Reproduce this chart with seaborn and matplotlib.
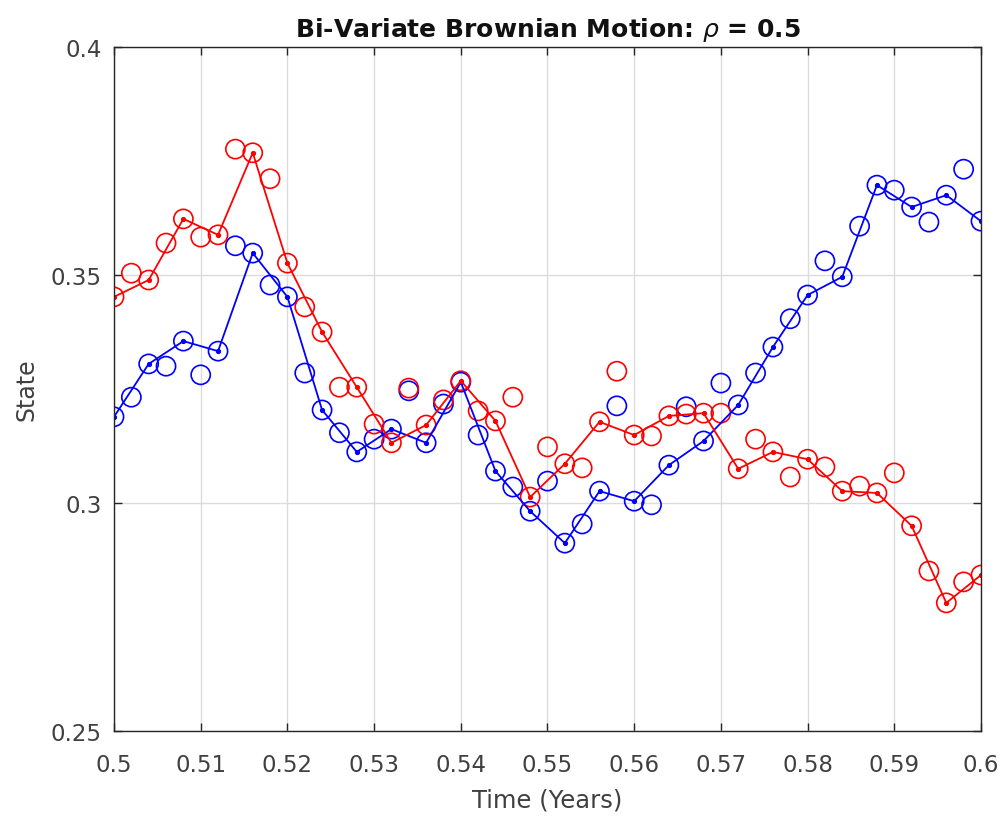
import matplotlib
matplotlib.use("Agg")
import matplotlib.pyplot as plt
import seaborn as sns
import numpy as np
import pandas as pd

# observation times (every 0.002) and path times (every 0.004)
t_obs = [round(0.5 + 0.002 * i, 3) for i in range(51)]
t_path = [round(0.5 + 0.004 * i, 3) for i in range(26)]

# noisy observations (open circles)
blue_obs = [0.3189, 0.3232, 0.3305, 0.3300, 0.3355, 0.3281, 0.3333, 0.3564, 0.3548, 0.3478,
            0.3452, 0.3285, 0.3204, 0.3154, 0.3112, 0.3140, 0.3162, 0.3246, 0.3132, 0.3217,
            0.3265, 0.3149, 0.3070, 0.3035, 0.2982, 0.3048, 0.2912, 0.2954, 0.3026, 0.3213,
            0.3004, 0.2996, 0.3083, 0.3211, 0.3136, 0.3263, 0.3215, 0.3285, 0.3342, 0.3404,
            0.3456, 0.3531, 0.3496, 0.3607, 0.3697, 0.3686, 0.3649, 0.3616, 0.3675, 0.3732,
            0.3618]
red_obs = [0.3452, 0.3504, 0.3489, 0.3570, 0.3623, 0.3583, 0.3588, 0.3776, 0.3768, 0.3711,
           0.3526, 0.3430, 0.3375, 0.3254, 0.3254, 0.3173, 0.3132, 0.3252, 0.3171, 0.3226,
           0.3268, 0.3202, 0.3180, 0.3232, 0.3013, 0.3123, 0.3086, 0.3077, 0.3178, 0.3289,
           0.3149, 0.3147, 0.3191, 0.3195, 0.3197, 0.3197, 0.3075, 0.3140, 0.3112, 0.3057,
           0.3096, 0.3079, 0.3026, 0.3037, 0.3022, 0.3066, 0.2950, 0.2851, 0.2781, 0.2827,
           0.2842]

# simulated paths (lines with dots)
blue_path = [0.3189, 0.3305, 0.3355, 0.3333, 0.3548, 0.3452, 0.3204, 0.3112, 0.3162, 0.3132,
             0.3265, 0.3070, 0.2982, 0.2912, 0.3026, 0.3004, 0.3083, 0.3136, 0.3215, 0.3342,
             0.3456, 0.3496, 0.3697, 0.3649, 0.3675, 0.3618]
red_path = [0.3452, 0.3489, 0.3623, 0.3588, 0.3768, 0.3526, 0.3375, 0.3254, 0.3132, 0.3171,
            0.3268, 0.3180, 0.3013, 0.3086, 0.3178, 0.3149, 0.3191, 0.3197, 0.3075, 0.3112,
            0.3096, 0.3026, 0.3022, 0.2950, 0.2781, 0.2842]

x_ticks = [0.5, 0.51, 0.52, 0.53, 0.54, 0.55, 0.56, 0.57, 0.58, 0.59, 0.6]
y_ticks = [0.25, 0.3, 0.35, 0.4]

sns.set_theme(style="ticks")
plt.rcParams['font.family'] = ['DejaVu Sans']
plt.rcParams['mathtext.fontset'] = 'dejavusans'

obs = pd.DataFrame({"t": t_obs, "blue": blue_obs, "red": red_obs})
path = pd.DataFrame({"t": t_path, "blue": blue_path, "red": red_path})

fig = plt.figure(figsize=(10.01, 8.2), dpi=100)
ax = fig.add_axes([0.1139, 0.1073, 0.8661, 0.8342])

for col, c in [("blue", "#0000ff"), ("red", "#ff0000")]:
    sns.lineplot(data=path, x="t", y=col, ax=ax, color=c, lw=1.3,
                 marker=".", markersize=6, markeredgecolor=c, estimator=None)
    sns.scatterplot(data=obs, x="t", y=col, ax=ax, marker="o", s=190,
                    facecolors="none", edgecolor=c, linewidth=1.2)

ax.set_xlim(0.5, 0.6)
ax.set_ylim(0.25, 0.4)
ax.set_xticks(x_ticks)
ax.set_xticklabels([f"{v:g}" for v in x_ticks])
ax.set_yticks(y_ticks)
ax.set_yticklabels([f"{v:g}" for v in y_ticks])
ax.grid(True, color="#dcdcdc", lw=1)
ax.set_axisbelow(True)
for s in ax.spines.values():
    s.set_visible(True)
    s.set_color("#262626")
    s.set_linewidth(1)
ax.tick_params(direction="in", length=6, width=1, top=True, right=True,
               labelsize=16.5, colors="#262626")
ax.tick_params(axis="x", pad=16, labelcolor="#404040")
ax.tick_params(axis="y", pad=9, labelcolor="#404040")
ax.set_xlabel("Time (Years)", fontsize=17.5, color="#404040", labelpad=8)
ax.set_ylabel("State", fontsize=17, color="#404040", labelpad=9)
ax.set_title(r"Bi-Variate Brownian Motion: $\rho$ = 0.5", fontsize=18,
             fontweight="bold", pad=8, color="#111111")

fig.savefig("out.png", dpi=100)
